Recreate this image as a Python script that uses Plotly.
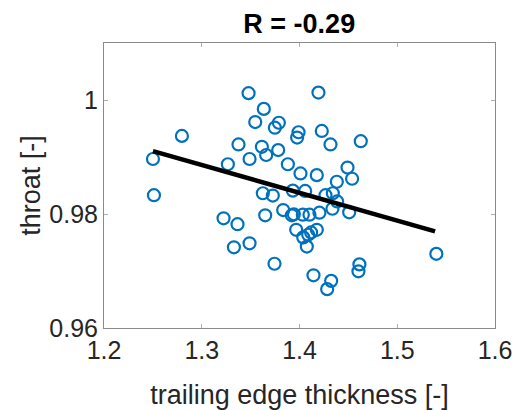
import plotly.graph_objects as go

# data
thickness = [1.2501, 1.2511, 1.2797, 1.3479, 1.4194, 1.3635, 1.3547, 1.3789, 1.3748, 1.3990,
             1.3976, 1.4228, 1.4627, 1.4317, 1.3376, 1.3615, 1.3782, 1.3659, 1.3489, 1.3267,
             1.3881, 1.4491, 1.4010, 1.4177, 1.4538, 1.4382, 1.3932, 1.4058, 1.3625, 1.3727,
             1.4266, 1.4341, 1.4385, 1.4337, 1.3833, 1.3922, 1.3942, 1.4034, 1.4102, 1.4204,
             1.4508, 1.3649, 1.3223, 1.3366, 1.3966, 1.4177, 1.4119, 1.4089, 1.4038, 1.3489,
             1.3329, 1.4075, 1.3744, 1.4613, 1.4603, 1.5400, 1.4143, 1.4324, 1.4283]
throat = [0.98965, 0.98330, 0.99370, 1.00120, 1.00130, 0.99844, 0.99613, 0.99601, 0.99514, 0.99434,
          0.99341, 0.99457, 0.99277, 0.99220, 0.99220, 0.99179, 0.99121, 0.99035, 0.98965, 0.98873,
          0.98873, 0.98815, 0.98711, 0.98682, 0.98618, 0.98566, 0.98410, 0.98405, 0.98364, 0.98324,
          0.98330, 0.98364, 0.98220, 0.98092, 0.98069, 0.97977, 0.97994, 0.97988, 0.97988, 0.98023,
          0.98029, 0.97977, 0.97925, 0.97821, 0.97723, 0.97723, 0.97676, 0.97636, 0.97590, 0.97486,
          0.97416, 0.97428, 0.97127, 0.97116, 0.96994, 0.97301, 0.96925, 0.96827, 0.96682]
fit_x = [1.2501, 1.5387]
fit_y = [0.99104, 0.97694]
title_text = "R = -0.29"
x_ticks = [1.2, 1.3, 1.4, 1.5, 1.6]
y_ticks = [0.96, 0.98, 1.0]
y_tick_labels = ["0.96", "0.98", "1"]

FONT = "Liberation Sans, Arial, sans-serif"

fig = go.Figure()
fig.add_trace(go.Scatter(
    x=thickness, y=throat, mode="markers",
    marker=dict(symbol="circle-open", size=12, color="#0072BD",
                line=dict(width=2.2, color="#0072BD")),
    showlegend=False, cliponaxis=False))
fig.add_trace(go.Scatter(
    x=fit_x, y=fit_y, mode="lines",
    line=dict(color="black", width=4.5), showlegend=False))

axis_common = dict(
    showgrid=False, zeroline=False, showline=True, linecolor="#8a8a8a", linewidth=1,
    mirror="ticks", ticks="inside", ticklen=4, tickcolor="#b0b0b0", automargin=False,
    ticklabeloverflow="allow",
    tickfont=dict(family=FONT, size=25, color="#262626"),
)

W, H = 515, 410
fig.update_layout(
    width=W, height=H,
    margin=dict(l=104, r=20, t=43, b=82),
    paper_bgcolor="white", plot_bgcolor="white",
    hovermode=False,
    title=dict(text="<b>" + title_text + "</b>", x=299.25 / W, xanchor="center",
               y=1 - 24 / H, yanchor="middle", yref="container",
               font=dict(family=FONT, size=27, color="black")),
    xaxis=dict(range=[1.2, 1.6], tickvals=x_ticks, ticktext=[str(v) for v in x_ticks],
               title=dict(text="trailing edge thickness [-]", standoff=24,
                          font=dict(family=FONT, size=27, color="#262626")),
               **axis_common),
    yaxis=dict(range=[0.96, 1.01], tickvals=y_ticks, ticktext=y_tick_labels,
               title=dict(text="throat [-]", standoff=0,
                          font=dict(family=FONT, size=27, color="#262626")),
               **axis_common),
)

# remove the browser's default body margin so the figure fills the window exactly
fig.write_html("out.html",
               config={"displayModeBar": False, "staticPlot": True},
               post_script="document.documentElement.style.overflow='hidden';"
                           "document.body.style.margin='0';"
                           "document.body.style.overflow='hidden';")
